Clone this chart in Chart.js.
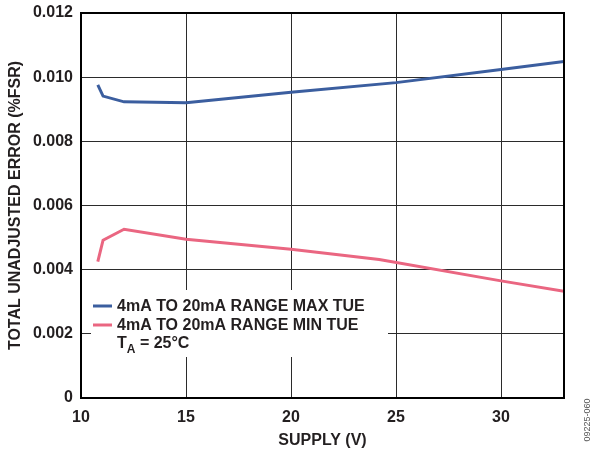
<!DOCTYPE html>
<html lang="en">
<head>
    <meta charset="UTF-8">
    <title>Total Unadjusted Error vs Supply</title>
    <style>
        body {
            margin: 0;
            background: #ffffff;
        }

        .chartContainer {
            width: 593px;
            height: 454px;
        }
    </style>
    <script src="https://cdn.jsdelivr.net/npm/chart.js"></script>
</head>
<body>
    <div class="chartContainer">
        <canvas id="tueChart" width="593" height="454"></canvas>
    </div>
    <script>
        // supply voltage (V) where each curve was sampled
        const supplyMax = [10.8, 11.05, 12.05, 15, 20, 25, 30, 33];
        const maxTue = [0.00976, 0.00941, 0.00923, 0.00920, 0.00953, 0.00983, 0.01024, 0.01049];

        const supplyMin = [10.8, 11.05, 12.05, 15, 20, 24.2, 30, 33];
        const minTue = [0.00425, 0.00492, 0.00526, 0.00495, 0.00464, 0.00432, 0.00365, 0.00333];

        const xTicks = [10, 15, 20, 25, 30];
        const yTicks = [0, 0.002, 0.004, 0.006, 0.008, 0.010, 0.012];

        const seriesLabels = ['4mA TO 20mA RANGE MAX TUE', '4mA TO 20mA RANGE MIN TUE'];

        const FONT = '"Liberation Sans", Arial, sans-serif';
        const BLUE = '#3b5e9f';
        const PINK = '#ea6681';

        const toPoints = (xs, ys) => xs.map((x, i) => ({ x: x, y: ys[i] }));

        // draws the boxed legend, the plot frame and the figure code
        const annotations = {
            id: 'annotations',
            beforeDatasetsDraw(chart) {
                const ctx = chart.ctx;
                const area = chart.chartArea;
                ctx.save();
                // white box that hides the grid behind the legend
                ctx.fillStyle = '#ffffff';
                ctx.fillRect(area.left + 10, 290, 297, 67);
                ctx.restore();
            },
            afterDatasetsDraw(chart) {
                const ctx = chart.ctx;
                const area = chart.chartArea;
                ctx.save();

                // frame
                ctx.strokeStyle = '#000000';
                ctx.lineWidth = 2;
                ctx.strokeRect(area.left, area.top, area.right - area.left, area.bottom - area.top);

                // legend
                ctx.font = 'bold 16px ' + FONT;
                ctx.textBaseline = 'middle';
                ctx.fillStyle = '#231f20';
                const rows = [306, 325];
                chart.data.datasets.forEach((ds, i) => {
                    ctx.strokeStyle = ds.borderColor;
                    ctx.lineWidth = 3;
                    ctx.beginPath();
                    ctx.moveTo(area.left + 12, rows[i]);
                    ctx.lineTo(area.left + 31, rows[i]);
                    ctx.stroke();
                    ctx.fillText(ds.label, area.left + 36, rows[i] + 1);
                });

                // T_A = 25°C
                const tx = area.left + 36;
                ctx.fillText('T', tx, 344);
                const tw = ctx.measureText('T').width;
                ctx.font = 'bold 12px ' + FONT;
                ctx.fillText('A', tx + tw, 350);
                const aw = ctx.measureText('A').width;
                ctx.font = 'bold 16px ' + FONT;
                ctx.fillText(' = 25°C', tx + tw + aw, 344);

                // figure code
                ctx.translate(588, 420);
                ctx.rotate(-Math.PI / 2);
                ctx.font = '9px ' + FONT;
                ctx.fillStyle = '#555555';
                ctx.textAlign = 'center';
                ctx.fillText('09225-060', 0, 0);

                ctx.restore();
            }
        };

        new Chart(document.getElementById('tueChart').getContext('2d'), {
            type: 'line',
            data: {
                datasets: [{
                    label: seriesLabels[0],
                    data: toPoints(supplyMax, maxTue),
                    borderColor: BLUE,
                    borderWidth: 3,
                    pointRadius: 0,
                    fill: false,
                    tension: 0
                }, {
                    label: seriesLabels[1],
                    data: toPoints(supplyMin, minTue),
                    borderColor: PINK,
                    borderWidth: 3,
                    pointRadius: 0,
                    fill: false,
                    tension: 0
                }]
            },
            options: {
                responsive: false,
                animation: false,
                layout: {
                    padding: { left: 0, right: 29, top: 13, bottom: 0 }
                },
                scales: {
                    x: {
                        type: 'linear',
                        min: 10,
                        max: 33,
                        afterBuildTicks: scale => {
                            scale.ticks = xTicks.map(v => ({ value: v }));
                        },
                        afterFit: scale => {
                            scale.height = 56;
                            scale.paddingLeft = 0;
                            scale.paddingRight = 0;
                        },
                        grid: {
                            color: '#2b2b2b',
                            lineWidth: 1,
                            drawTicks: false
                        },
                        border: { display: false },
                        ticks: {
                            padding: 10,
                            color: '#231f20',
                            font: { family: FONT, size: 16, weight: 'bold' },
                            maxRotation: 0
                        },
                        title: {
                            display: true,
                            text: 'SUPPLY (V)',
                            color: '#231f20',
                            font: { family: FONT, size: 16, weight: 'bold' },
                            padding: { top: 0, bottom: 4 }
                        }
                    },
                    y: {
                        min: 0,
                        max: 0.012,
                        afterBuildTicks: scale => {
                            scale.ticks = yTicks.map(v => ({ value: v }));
                        },
                        afterFit: scale => {
                            scale.width = 81;
                            scale.paddingTop = 0;
                            scale.paddingBottom = 0;
                        },
                        grid: {
                            color: '#2b2b2b',
                            lineWidth: 1,
                            drawTicks: false
                        },
                        border: { display: false },
                        ticks: {
                            padding: 8,
                            color: '#231f20',
                            font: { family: FONT, size: 16, weight: 'bold' },
                            callback: v => (v === 0 ? '0' : v.toFixed(3))
                        },
                        title: {
                            display: true,
                            text: 'TOTAL UNADJUSTED ERROR (%FSR)',
                            color: '#231f20',
                            font: { family: FONT, size: 16, weight: 'bold' },
                            padding: { top: 6, bottom: 0 }
                        }
                    }
                },
                plugins: {
                    legend: { display: false },
                    tooltip: { enabled: false }
                }
            },
            plugins: [annotations]
        });
    </script>
</body>
</html>
